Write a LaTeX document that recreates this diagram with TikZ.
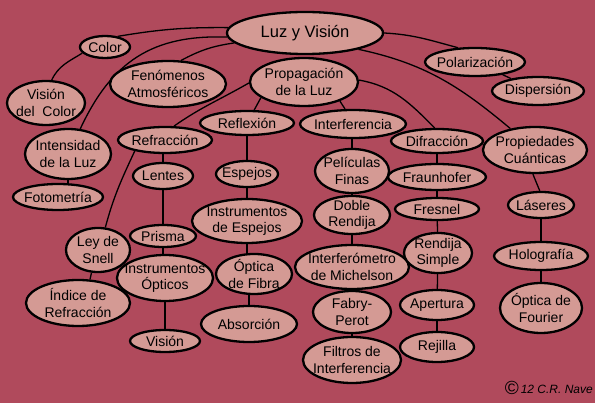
\documentclass[tikz,border=0pt]{standalone}
\usepackage{fontspec}
\setmainfont{Liberation Sans}
\usetikzlibrary{shapes.geometric}
\definecolor{bgcol}{RGB}{176,74,92}
\definecolor{nodefill}{RGB}{212,154,148}
\pgfdeclarelayer{back}
\pgfdeclarelayer{lines}
\pgfsetlayers{back,lines,main}
\begin{document}
\begin{tikzpicture}[x=1pt,y=1pt,
  lbl/.style={align=center, inner sep=0pt, text=black, font=\fontsize{14}{16.5}\selectfont},
  el/.style n args={3}{ellipse, draw=black, line width=2.3pt, fill=nodefill, inner sep=0pt,
     minimum width=#1, minimum height=#2, label={[lbl]center:{#3}}},
  conn/.style={draw=black, line width=1.3pt}]
\useasboundingbox (0,0) rectangle (595,-403);
\begin{pgfonlayer}{back}
\fill[bgcol] (0,0) rectangle (595,-403);
\end{pgfonlayer}

% top level
\node[el={156pt}{42pt}{\fontsize{16.5}{19}\selectfont Luz y Visión}] (luz) at (305,-33) {};
\node[el={50pt}{22pt}{Color}] (color) at (105,-47) {};
\node[el={78pt}{44pt}{Visión\\del\ \ Color}] (vdc) at (46,-103) {};
\node[el={116pt}{46pt}{Fenómenos\\Atmosféricos}] (fen) at (168,-84) {};
\node[el={108pt}{48pt}{Propagación\\de la Luz}] (prop) at (304,-82) {};
\node[el={100pt}{28pt}{Polarización}] (pol) at (475,-62) {};
\node[el={92pt}{28pt}{Dispersión}] (disp) at (538,-91) {};
\node[el={86pt}{50pt}{Intensidad\\de la Luz}] (int) at (68,-154) {};
\node[el={90pt}{26pt}{Fotometría}] (foto) at (58,-197) {};
\node[el={104pt}{46pt}{Propiedades\\Cuánticas}] (cuant) at (535,-150) {};

% second level
\node[el={94pt}{26pt}{Refracción}] (refr) at (165,-140) {};
\node[el={94pt}{24pt}{Reflexión}] (refl) at (247,-123) {};
\node[el={106pt}{28pt}{Interferencia}] (interf) at (353,-124) {};
\node[el={92pt}{24pt}{Difracción}] (difr) at (437,-141) {};

% refraction column
\node[el={60pt}{26pt}{Lentes}] (lentes) at (163,-176) {};
\node[el={66pt}{22pt}{Prisma}] (prisma) at (163,-236) {};
\node[el={96pt}{46pt}{Instrumentos\\Ópticos}] (instopt) at (165,-278) {};
\node[el={70pt}{22pt}{Visión}] (vision) at (165,-341) {};
\node[el={64pt}{44pt}{Ley de\\Snell}] (snell) at (98,-250) {};
\node[el={104pt}{46pt}{Índice de\\Refracción}] (indice) at (78,-303) {};

% reflection column
\node[el={62pt}{26pt}{Espejos}] (espejos) at (247,-174) {};
\node[el={110pt}{44pt}{Instrumentos\\de Espejos}] (instesp) at (247,-221) {};
\node[el={76pt}{40pt}{Óptica\\de Fibra}] (fibra) at (254,-274) {};
\node[el={96pt}{36pt}{Absorción}] (absor) at (249,-324) {};

% interference column
\node[el={74pt}{44pt}{Películas\\Finas}] (peli) at (352,-171) {};
\node[el={76pt}{38pt}{Doble\\Rendija}] (doble) at (352,-215) {};
\node[el={114pt}{44pt}{Interferómetro\\de Michelson}] (michel) at (352,-267) {};
\node[el={78pt}{42pt}{Fabry-\\Perot}] (fabry) at (352,-312) {};
\node[el={98pt}{46pt}{Filtros de\\Interferencia}] (filtros) at (352,-360) {};

% diffraction column
\node[el={98pt}{26pt}{Fraunhofer}] (fraun) at (437,-177) {};
\node[el={84pt}{22pt}{Fresnel}] (fresnel) at (437,-209) {};
\node[el={68pt}{40pt}{Rendija\\Simple}] (rendija) at (438,-253) {};
\node[el={74pt}{30pt}{Apertura}] (apert) at (437,-305) {};
\node[el={74pt}{30pt}{Rejilla}] (rejilla) at (437,-347) {};

% quantum column
\node[el={66pt}{26pt}{Láseres}] (laser) at (541,-205) {};
\node[el={94pt}{28pt}{Holografía}] (holo) at (541,-256) {};
\node[el={82pt}{50pt}{Óptica de\\Fourier}] (fourier) at (541,-308) {};

\node[font=\itshape\fontsize{12}{13}\selectfont, anchor=east, inner sep=0pt] (copy) at (593,-388)
  {{\upshape\fontsize{19}{19}\selectfont\raisebox{-1pt}{©}}\,12 C.R. Nave};

\begin{pgfonlayer}{lines}
\draw[conn] (luz.176) to[bend right=5] (color.40);
\draw[conn] (luz.183) to[out=178,in=65,looseness=1.1] (int.64);
\draw[conn] (luz.188) to[bend right=10] (fen.61);
\draw[conn] (color.195) to[out=212,in=65] (vdc.76);
\draw[conn] (luz.0) to[out=-3,in=165] (pol.140);
\draw[conn] (pol) -- (disp);
\draw[conn] (luz.-17) to[out=-12,in=140] (cuant.139);
\draw[conn] (int) -- (int |- foto);
\draw[conn] (cuant.265) -- (laser.95);
\draw[conn] (laser) -- (holo);
\draw[conn] (holo) -- (fourier);

\draw[conn] (prop.181) to[out=210,in=35] (refr.57);
\draw[conn] (prop.200) -- (refl.61);
\draw[conn] (prop.-28) -- (interf.118);
\draw[conn] (prop.2) to[out=-10,in=135] (difr.100);

\draw[conn] (lentes) -- (lentes |- refr);
\draw[conn] (lentes) -- (prisma);
\draw[conn] (prisma) -- (prisma |- instopt);
\draw[conn] (instopt) -- (vision);
\draw[conn] (refr.200) to[out=245,in=75] (snell.72);
\draw[conn] (snell.254) -- (indice.63);

\draw[conn] (refl) -- (espejos);
\draw[conn] (espejos) -- (instesp);
\draw[conn] (instesp) -- (instesp |- fibra);
\draw[conn] (absor) -- (absor |- fibra);

\draw[conn] (peli) -- (peli |- interf);
\draw[conn] (peli) -- (doble);
\draw[conn] (doble) -- (michel);
\draw[conn] (michel) -- (fabry);
\draw[conn] (fabry) -- (filtros);

\draw[conn] (difr) -- (fraun);
\draw[conn] (fraun) -- (fresnel);
\draw[conn] (fresnel) -- (rendija);
\draw[conn] (rendija) -- (apert);
\draw[conn] (apert) -- (rejilla);
\end{pgfonlayer}
\end{tikzpicture}
\end{document}
